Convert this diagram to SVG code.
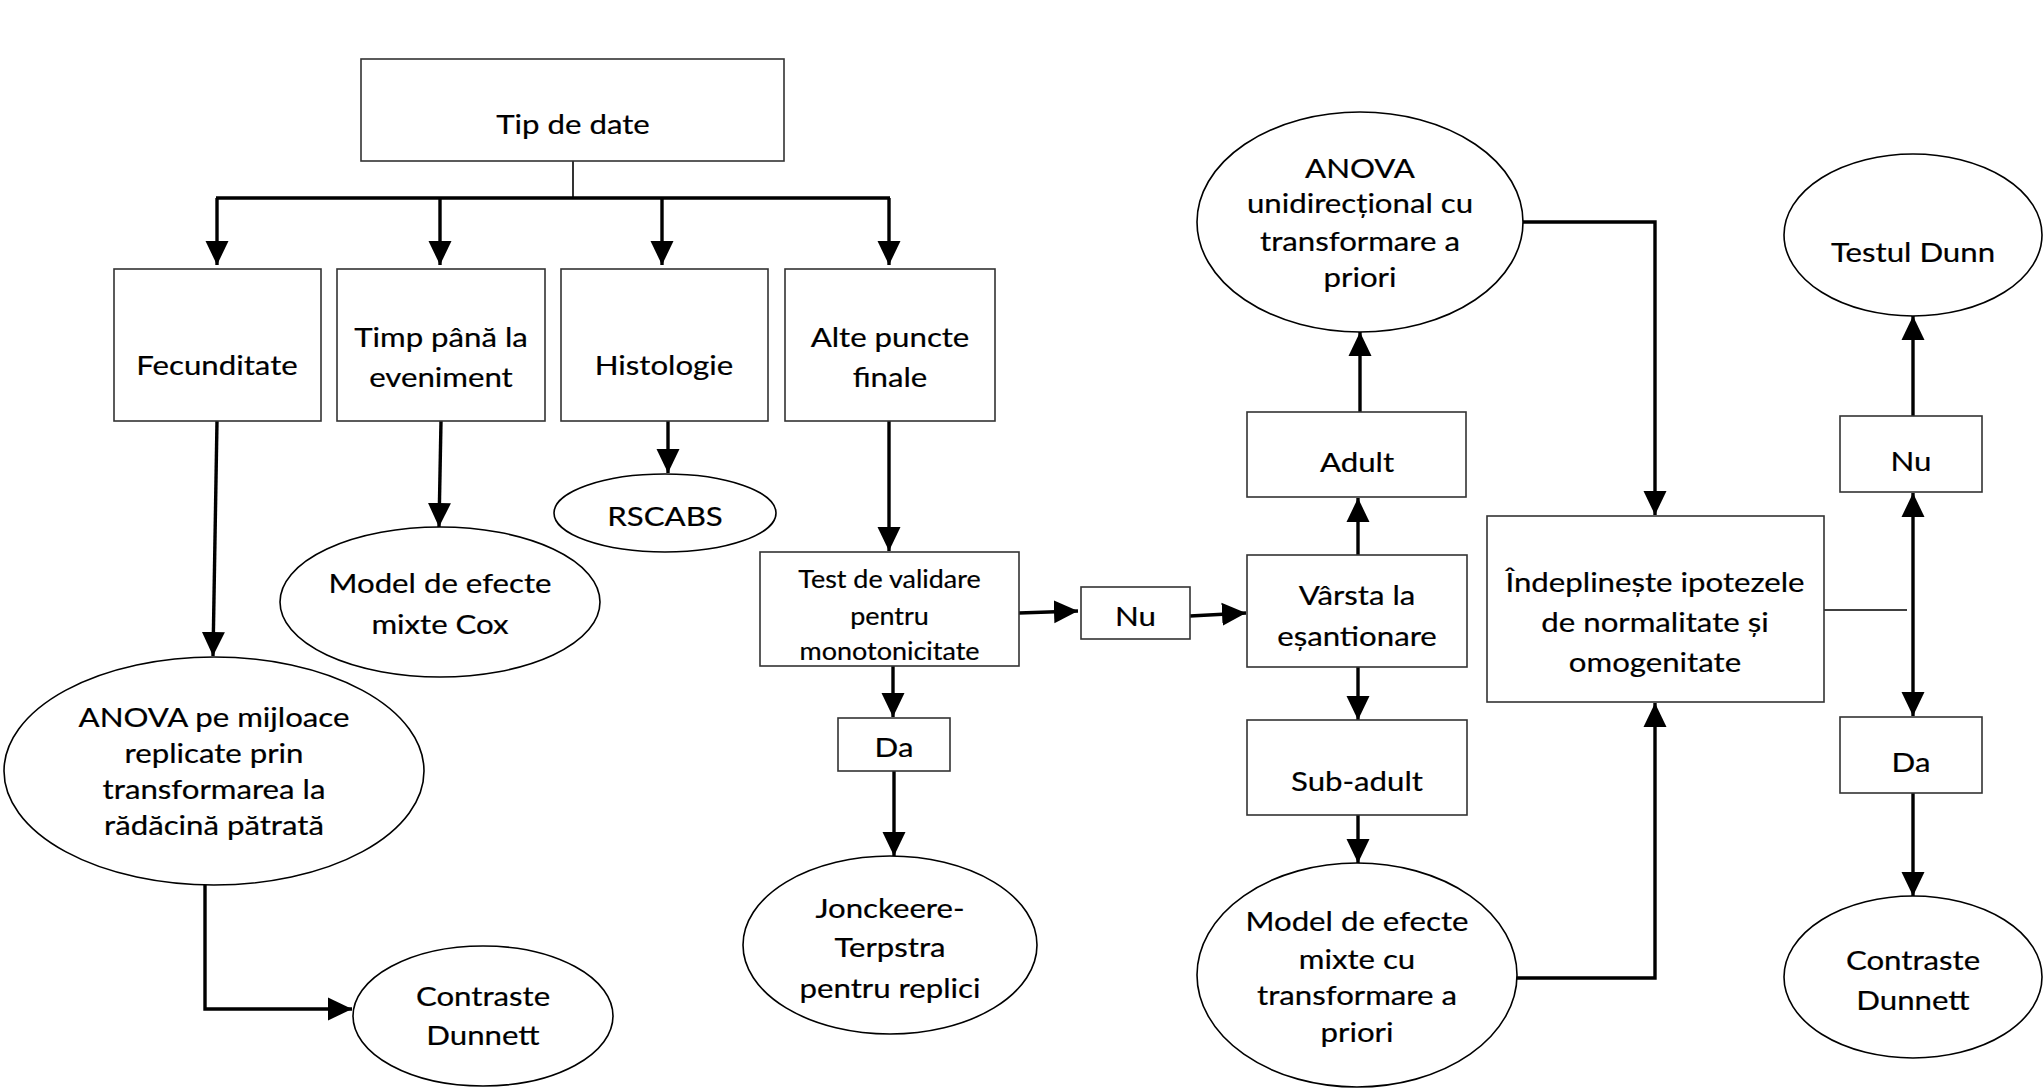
<svg xmlns="http://www.w3.org/2000/svg" width="2044" height="1088" viewBox="0 0 2044 1088">
<style>
.box{fill:#fff;stroke:#333;stroke-width:1.6}
.ell{fill:#fff;stroke:#000;stroke-width:1.6}
.t{font-family:Lato,"Liberation Sans",sans-serif;font-size:26px;fill:#000;stroke:#000;stroke-width:0.2;text-anchor:middle}
.ts{font-size:24.5px}
.c{fill:none;stroke:#000;stroke-width:3.4}
.thin{fill:none;stroke:#000;stroke-width:1.6}
</style>
<defs>
<marker id="ah" markerUnits="userSpaceOnUse" markerWidth="24" markerHeight="24" viewBox="0 0 24 24" refX="24" refY="12" orient="auto-start-reverse">
<path d="M0,0.5 L24,12 L0,23.5 Z" fill="#000"/>
</marker>
</defs>
<rect width="2044" height="1088" fill="#fff"/>
<g id="connectors">
<line class="thin" x1="573" y1="161" x2="573" y2="198"/>
<line class="c" x1="216" y1="198" x2="890" y2="198"/>
<line class="c" x1="217" y1="198" x2="217" y2="265" marker-end="url(#ah)"/>
<line class="c" x1="440" y1="198" x2="440" y2="265" marker-end="url(#ah)"/>
<line class="c" x1="662" y1="198" x2="662" y2="265" marker-end="url(#ah)"/>
<line class="c" x1="889" y1="198" x2="889" y2="265" marker-end="url(#ah)"/>
<line class="c" x1="217" y1="421" x2="213" y2="656" marker-end="url(#ah)"/>
<line class="c" x1="441" y1="421" x2="439" y2="527" marker-end="url(#ah)"/>
<line class="c" x1="668" y1="421" x2="668" y2="473" marker-end="url(#ah)"/>
<line class="c" x1="889" y1="421" x2="889" y2="551" marker-end="url(#ah)"/>
<line class="c" x1="1019" y1="613" x2="1078" y2="611" marker-end="url(#ah)"/>
<line class="c" x1="893" y1="666" x2="893" y2="717" marker-end="url(#ah)"/>
<line class="c" x1="894" y1="771" x2="894" y2="856" marker-end="url(#ah)"/>
<polyline class="c" points="205,885 205,1009 352,1009" marker-end="url(#ah)"/>
<line class="c" x1="1190" y1="616" x2="1246" y2="613" marker-end="url(#ah)"/>
<line class="c" x1="1358" y1="555" x2="1358" y2="498" marker-end="url(#ah)"/>
<line class="c" x1="1360" y1="412" x2="1360" y2="332" marker-end="url(#ah)"/>
<line class="c" x1="1358" y1="667" x2="1358" y2="720" marker-end="url(#ah)"/>
<line class="c" x1="1358" y1="815" x2="1358" y2="863" marker-end="url(#ah)"/>
<polyline class="c" points="1522,222 1655,222 1655,515" marker-end="url(#ah)"/>
<polyline class="c" points="1517,978 1655,978 1655,703" marker-end="url(#ah)"/>
<line class="thin" x1="1824" y1="610" x2="1907" y2="610"/>
<line class="c" x1="1913" y1="493" x2="1913" y2="716" marker-start="url(#ah)" marker-end="url(#ah)"/>
<line class="c" x1="1913" y1="416" x2="1913" y2="316" marker-end="url(#ah)"/>
<line class="c" x1="1913" y1="793" x2="1913" y2="896" marker-end="url(#ah)"/>
</g>
<g id="n-tip"><rect class="box" x="361" y="59" width="423" height="102"/><g transform="translate(573 0) scale(1.2 1)"><text class="t" x="0" y="134">Tip de date</text></g></g>
<g id="n-fecunditate"><rect class="box" x="114" y="269" width="207" height="152"/><g transform="translate(217 0) scale(1.2 1)"><text class="t" x="0" y="375">Fecunditate</text></g></g>
<g id="n-timp"><rect class="box" x="337" y="269" width="208" height="152"/><g transform="translate(441 0) scale(1.2 1)"><text class="t" x="0" y="347">Timp până la</text><text class="t" x="0" y="387">eveniment</text></g></g>
<g id="n-histologie"><rect class="box" x="561" y="269" width="207" height="152"/><g transform="translate(664 0) scale(1.2 1)"><text class="t" x="0" y="375">Histologie</text></g></g>
<g id="n-alte"><rect class="box" x="785" y="269" width="210" height="152"/><g transform="translate(890 0) scale(1.2 1)"><text class="t" x="0" y="347">Alte puncte</text><text class="t" x="0" y="387">finale</text></g></g>
<g id="n-rscabs"><ellipse class="ell" cx="665" cy="513" rx="111" ry="39"/><g transform="translate(665 0) scale(1.2 1)"><text class="t" x="0" y="526">RSCABS</text></g></g>
<g id="n-cox"><ellipse class="ell" cx="440" cy="602" rx="160" ry="75"/><g transform="translate(440 0) scale(1.2 1)"><text class="t" x="0" y="593">Model de efecte</text><text class="t" x="0" y="634">mixte Cox</text></g></g>
<g id="n-anova-sqrt"><ellipse class="ell" cx="214" cy="771" rx="210" ry="114"/><g transform="translate(214 0) scale(1.2 1)"><text class="t" x="0" y="727">ANOVA pe mijloace</text><text class="t" x="0" y="763">replicate prin</text><text class="t" x="0" y="799">transformarea la</text><text class="t" x="0" y="835">rădăcină pătrată</text></g></g>
<g id="n-dunnett-left"><ellipse class="ell" cx="483" cy="1016" rx="130" ry="70"/><g transform="translate(483 0) scale(1.2 1)"><text class="t" x="0" y="1006">Contraste</text><text class="t" x="0" y="1045">Dunnett</text></g></g>
<g id="n-test"><rect class="box" x="760" y="552" width="259" height="114"/><g transform="translate(889.5 0) scale(1.1 1)"><text class="t ts" x="0" y="588">Test de validare</text><text class="t ts" x="0" y="625">pentru</text><text class="t ts" x="0" y="660">monotonicitate</text></g></g>
<g id="n-nu-mid"><rect class="box" x="1081" y="587" width="109" height="52"/><g transform="translate(1135.5 0) scale(1.2 1)"><text class="t" x="0" y="626">Nu</text></g></g>
<g id="n-da-mid"><rect class="box" x="838" y="718" width="112" height="53"/><g transform="translate(894 0) scale(1.2 1)"><text class="t" x="0" y="757">Da</text></g></g>
<g id="n-jonckeere"><ellipse class="ell" cx="890" cy="945" rx="147" ry="89"/><g transform="translate(890 0) scale(1.2 1)"><text class="t" x="0" y="918">Jonckeere-</text><text class="t" x="0" y="957">Terpstra</text><text class="t" x="0" y="998">pentru replici</text></g></g>
<g id="n-varsta"><rect class="box" x="1247" y="555" width="220" height="112"/><g transform="translate(1357 0) scale(1.2 1)"><text class="t" x="0" y="605">Vârsta la</text><text class="t" x="0" y="646">eșantionare</text></g></g>
<g id="n-adult"><rect class="box" x="1247" y="412" width="219" height="85"/><g transform="translate(1357 0) scale(1.2 1)"><text class="t" x="0" y="472">Adult</text></g></g>
<g id="n-subadult"><rect class="box" x="1247" y="720" width="220" height="95"/><g transform="translate(1357 0) scale(1.2 1)"><text class="t" x="0" y="791">Sub-adult</text></g></g>
<g id="n-anova-uni"><ellipse class="ell" cx="1360" cy="222" rx="163" ry="110"/><g transform="translate(1360 0) scale(1.2 1)"><text class="t" x="0" y="178">ANOVA</text><text class="t" x="0" y="213">unidirecțional cu</text><text class="t" x="0" y="251">transformare a</text><text class="t" x="0" y="287">priori</text></g></g>
<g id="n-model-mixte"><ellipse class="ell" cx="1357" cy="975" rx="160" ry="112"/><g transform="translate(1357 0) scale(1.2 1)"><text class="t" x="0" y="931">Model de efecte</text><text class="t" x="0" y="969">mixte cu</text><text class="t" x="0" y="1005">transformare a</text><text class="t" x="0" y="1042">priori</text></g></g>
<g id="n-indeplineste"><rect class="box" x="1487" y="516" width="337" height="186"/><g transform="translate(1655 0) scale(1.2 1)"><text class="t" x="0" y="592">Îndeplinește ipotezele</text><text class="t" x="0" y="632">de normalitate și</text><text class="t" x="0" y="672">omogenitate</text></g></g>
<g id="n-dunn"><ellipse class="ell" cx="1913" cy="235" rx="129" ry="81"/><g transform="translate(1913 0) scale(1.2 1)"><text class="t" x="0" y="262">Testul Dunn</text></g></g>
<g id="n-nu-right"><rect class="box" x="1840" y="416" width="142" height="76"/><g transform="translate(1911 0) scale(1.2 1)"><text class="t" x="0" y="471">Nu</text></g></g>
<g id="n-da-right"><rect class="box" x="1840" y="717" width="142" height="76"/><g transform="translate(1911 0) scale(1.2 1)"><text class="t" x="0" y="772">Da</text></g></g>
<g id="n-dunnett-right"><ellipse class="ell" cx="1913" cy="977" rx="129" ry="81"/><g transform="translate(1913 0) scale(1.2 1)"><text class="t" x="0" y="970">Contraste</text><text class="t" x="0" y="1010">Dunnett</text></g></g>
</svg>
